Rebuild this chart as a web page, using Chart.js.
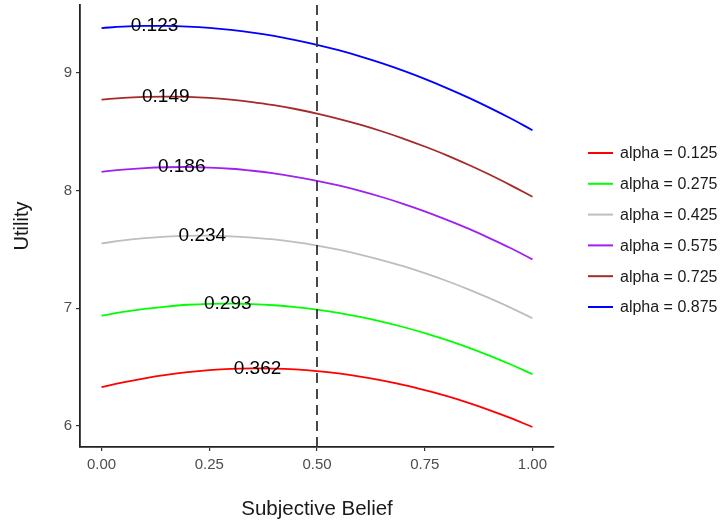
<!DOCTYPE html>
<html>
<head>
<meta charset="utf-8">
<script src="https://cdn.jsdelivr.net/npm/chart.js@4.4.1/dist/chart.umd.min.js"></script>
<style>
  html, body { margin: 0; padding: 0; background: #fff; }
  #wrap { width: 726px; height: 525px; }
</style>
</head>
<body>
<div id="wrap"><canvas id="utilChart"></canvas></div>
<script>
const beliefs = [0, 0.05, 0.1, 0.15, 0.2, 0.25, 0.3, 0.35, 0.4, 0.45, 0.5,
  0.55, 0.6, 0.65, 0.7, 0.75, 0.8, 0.85, 0.9, 0.95, 1];

const alpha125 = [6.328, 6.369, 6.404, 6.433, 6.456, 6.473, 6.484, 6.488, 6.487, 6.479, 6.465,
  6.445, 6.419, 6.387, 6.349, 6.304, 6.254, 6.197, 6.134, 6.065, 5.990];
const alpha275 = [6.936, 6.968, 6.994, 7.014, 7.029, 7.037, 7.039, 7.035, 7.025, 7.009, 6.988,
  6.960, 6.926, 6.886, 6.840, 6.788, 6.730, 6.667, 6.597, 6.521, 6.439];
const alpha425 = [7.551, 7.576, 7.595, 7.608, 7.615, 7.616, 7.611, 7.600, 7.584, 7.561, 7.532,
  7.497, 7.456, 7.409, 7.357, 7.298, 7.233, 7.162, 7.085, 7.003, 6.914];
const alpha575 = [8.159, 8.178, 8.191, 8.198, 8.200, 8.195, 8.185, 8.168, 8.146, 8.117, 8.083,
  8.043, 7.997, 7.945, 7.887, 7.823, 7.753, 7.678, 7.596, 7.509, 7.415];
const alpha725 = [8.773, 8.788, 8.796, 8.799, 8.796, 8.787, 8.772, 8.752, 8.725, 8.693, 8.654,
  8.610, 8.560, 8.504, 8.442, 8.374, 8.301, 8.221, 8.136, 8.044, 7.947];
const alpha875 = [9.381, 9.393, 9.399, 9.400, 9.394, 9.383, 9.366, 9.343, 9.314, 9.279, 9.239,
  9.193, 9.141, 9.083, 9.019, 8.949, 8.873, 8.792, 8.705, 8.612, 8.513];

const seriesNames = ["alpha = 0.125", "alpha = 0.275", "alpha = 0.425",
  "alpha = 0.575", "alpha = 0.725", "alpha = 0.875"];
const seriesColors = ["#ff0000", "#00ff00", "#bebebe", "#a020f0", "#a52a2a", "#0000ff"];

// optimum belief for each curve, printed at the top of the curve
const peakX = [0.362, 0.293, 0.234, 0.186, 0.149, 0.123];
const peakY = [6.488, 7.039, 7.616, 8.200, 8.799, 9.400];
const peakText = ["0.362", "0.293", "0.234", "0.186", "0.149", "0.123"];

const xTicks = [0, 0.25, 0.5, 0.75, 1];
const yTicks = [6, 7, 8, 9];
const refBelief = 0.5;

const FONT = "'Liberation Sans', Arial, Helvetica, sans-serif";

const allSeries = [alpha125, alpha275, alpha425, alpha575, alpha725, alpha875];
const datasets = allSeries.map((vals, i) => ({
  label: seriesNames[i],
  data: beliefs.map((b, j) => ({ x: b, y: vals[j] })),
  borderColor: seriesColors[i],
  borderWidth: 1.8,
  pointRadius: 0,
  tension: 0.4,
  fill: false,
}));

const extrasPlugin = {
  id: "extras",
  afterDatasetsDraw(chart) {
    const { ctx, chartArea, scales } = chart;
    const xs = scales.x, ys = scales.y;

    // dashed reference line
    const vx = xs.getPixelForValue(refBelief);
    ctx.save();
    ctx.strokeStyle = "#333333";
    ctx.lineWidth = 1.8;
    ctx.setLineDash([10, 6]);
    ctx.beginPath();
    ctx.moveTo(vx, chartArea.top);
    ctx.lineTo(vx, chartArea.bottom);
    ctx.stroke();
    ctx.restore();

    // peak labels
    ctx.save();
    ctx.font = "19px " + FONT;
    ctx.fillStyle = "#000000";
    ctx.textAlign = "center";
    ctx.textBaseline = "middle";
    peakX.forEach((px, i) => {
      ctx.fillText(peakText[i], xs.getPixelForValue(px), ys.getPixelForValue(peakY[i]));
    });
    ctx.restore();

    // legend
    ctx.save();
    const lx = chartArea.right + 34;
    const ly0 = 153;
    const step = 30.8;
    ctx.font = "16px " + FONT;
    ctx.textAlign = "left";
    ctx.textBaseline = "middle";
    seriesNames.forEach((name, i) => {
      const y = ly0 + i * step;
      ctx.strokeStyle = seriesColors[i];
      ctx.lineWidth = 2;
      ctx.beginPath();
      ctx.moveTo(lx, y);
      ctx.lineTo(lx + 25, y);
      ctx.stroke();
      ctx.fillStyle = "#1a1a1a";
      ctx.fillText(name, lx + 32, y + 1);
    });
    ctx.restore();
  },
};

const ctx = document.getElementById("utilChart").getContext("2d");
new Chart(ctx, {
  type: "line",
  data: { datasets: datasets },
  options: {
    responsive: true,
    maintainAspectRatio: false,
    animation: false,
    layout: { padding: { top: 5, right: 172, left: 0, bottom: 0 } },
    plugins: {
      legend: { display: false },
      tooltip: { enabled: false },
    },
    scales: {
      x: {
        type: "linear",
        min: -0.05,
        max: 1.05,
        afterBuildTicks: (axis) => { axis.ticks = xTicks.map((v) => ({ value: v })); },
        afterFit: (axis) => { axis.height = 78; axis.paddingLeft = 0; axis.paddingRight = 0; },
        border: { display: true, color: "#222222", width: 1.8 },
        grid: { display: true, drawOnChartArea: false, drawTicks: true, tickLength: 4, color: "#333333", lineWidth: 1.2 },
        ticks: {
          padding: 5,
          maxRotation: 0,
          color: "#4d4d4d",
          font: { family: FONT, size: 15 },
          callback: (v) => v.toFixed(2),
        },
        title: {
          display: true,
          text: "Subjective Belief",
          color: "#1a1a1a",
          font: { family: FONT, size: 20.5 },
          padding: { top: 3, bottom: 3 },
        },
      },
      y: {
        min: 5.82,
        max: 9.577,
        afterBuildTicks: (axis) => { axis.ticks = yTicks.map((v) => ({ value: v })); },
        afterFit: (axis) => { axis.width = 80; axis.paddingTop = 0; axis.paddingBottom = 0; },
        border: { display: true, color: "#222222", width: 1.8 },
        grid: { display: true, drawOnChartArea: false, drawTicks: true, tickLength: 4, color: "#333333", lineWidth: 1.2 },
        ticks: {
          padding: 4,
          color: "#4d4d4d",
          font: { family: FONT, size: 15 },
          callback: (v) => String(v),
        },
        title: {
          display: true,
          text: "Utility",
          color: "#1a1a1a",
          font: { family: FONT, size: 20 },
          padding: { top: 10, bottom: 10 },
        },
      },
    },
  },
  plugins: [extrasPlugin],
});
</script>
</body>
</html>
